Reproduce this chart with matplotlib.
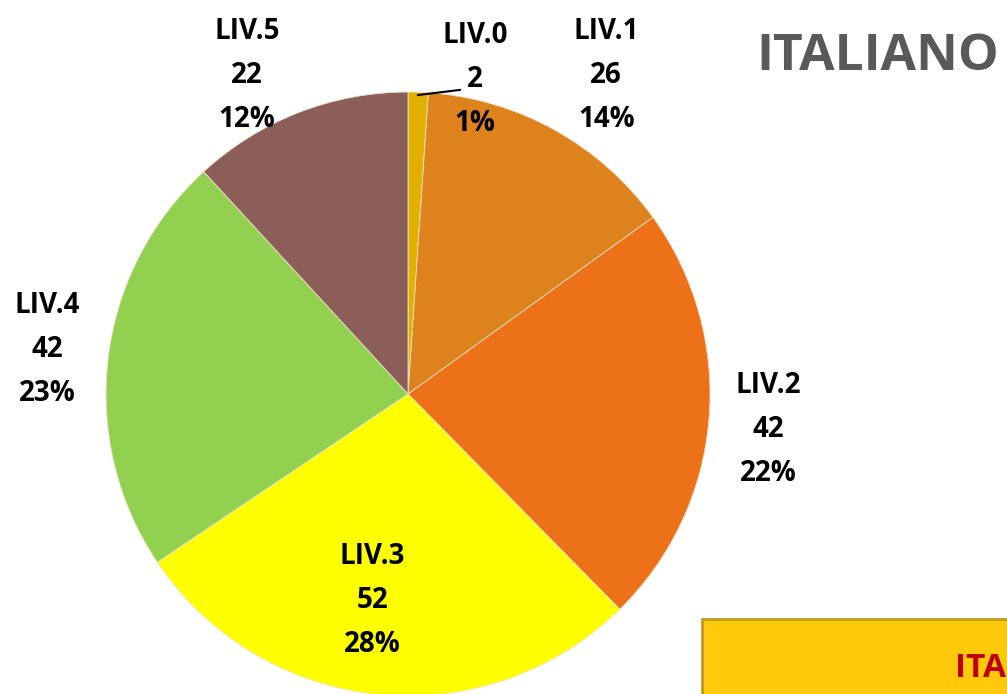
import matplotlib.pyplot as plt
from matplotlib.patches import Rectangle

# Livelli di apprendimento - Italiano
levels = ['LIV.0', 'LIV.1', 'LIV.2', 'LIV.3', 'LIV.4', 'LIV.5']
counts = [2, 26, 42, 52, 42, 22]
pct_labels = ['1%', '14%', '22%', '28%', '23%', '12%']
colors = ['#E1B100', '#DD821D', '#EC7119', '#FFFF00', '#92D050', '#8B5E5A']

# label positions (in pie-radius units)
label_pos = [(0.222, 1.040), (0.656, 1.056), (1.192, -0.119),
             (-0.119, -0.685), (-1.195, 0.146), (-0.533, 1.056)]

plt.rcParams['font.family'] = ['Open Sans', 'DejaVu Sans']

fig = plt.figure(figsize=(10.07, 6.94), dpi=100)
ax = fig.add_axes([0.1053, -0.0029, 0.5998, 0.8703])
ax.pie(counts, colors=colors, startangle=90, counterclock=False, radius=1,
       wedgeprops=dict(edgecolor='#F2E0C8', linewidth=0.6))
ax.set_xlim(-1, 1)
ax.set_ylim(-1, 1)
ax.set_aspect('equal')

for lab, n, p, (x, y) in zip(levels, counts, pct_labels, label_pos):
    ax.text(x, y, f'{lab}\n{n}\n{p}', ha='center', va='center',
            fontsize=20, fontweight='bold', color='black', linespacing=1.68)

# leader line for the small slice
ax.plot([0.033, 0.172], [0.990, 1.007], color='black', lw=1.5, clip_on=False)

fig.text(0.751, 0.918, 'ITALIANO', fontsize=37, fontweight='bold',
         color='#595959', ha='left', va='center')

box = Rectangle((0.697, -0.05), 0.4, 0.158, transform=fig.transFigure,
                facecolor='#FDC909', edgecolor='#BE9A1B', linewidth=2)
fig.patches.append(box)
fig.text(0.948, 0.037, 'ITA', fontsize=24, fontweight='bold',
         color='#C00000', ha='left', va='center')

fig.savefig('out.png', dpi=100)
